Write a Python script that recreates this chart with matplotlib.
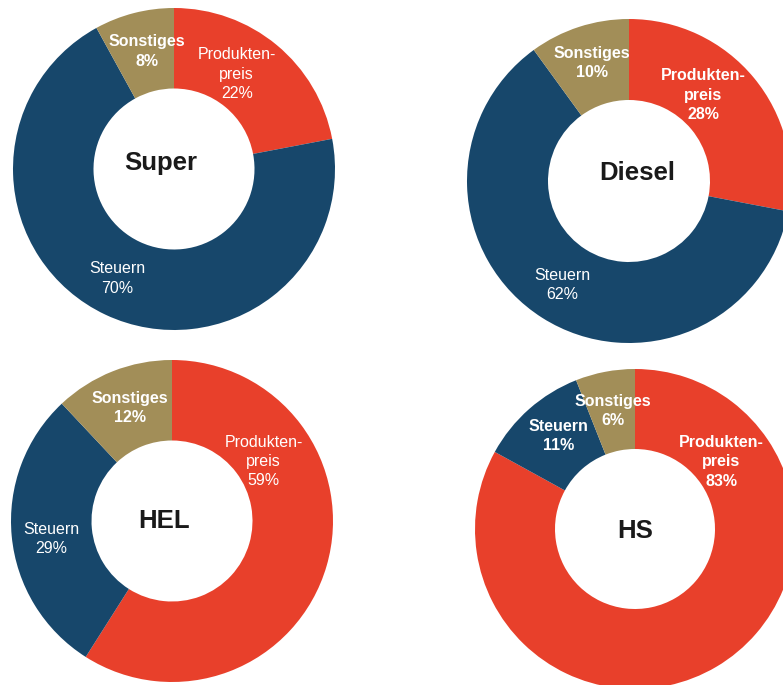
import matplotlib
matplotlib.use("Agg")
import matplotlib.pyplot as plt

plt.rcParams["font.family"] = ["Liberation Sans", "DejaVu Sans"]

# Shares of the fuel price (clockwise from 12 o'clock)
components = ["Produktenpreis", "Steuern", "Sonstiges"]
fuels = ["Super", "Diesel", "HEL", "HS"]
super_shares = [22, 70, 8]
diesel_shares = [28, 62, 10]
hel_shares = [59, 29, 12]
hs_shares = [83, 11, 6]

component_labels = {
    "Produktenpreis": "Produkten-\npreis\n{}%",
    "Steuern": "Steuern\n{}%",
    "Sonstiges": "Sonstiges\n{}%",
}
colors = {"Produktenpreis": "#E8402B", "Steuern": "#17476B", "Sonstiges": "#A28E58"}

W, H = 783, 685
fig = plt.figure(figsize=(W / 100, H / 100), dpi=100)
ax = fig.add_axes([0, 0, 1, 1])

# donut layout: centre (px), outer radius (px)
layout = {
    "Super": ((174, H - 169), 161),
    "Diesel": ((629, H - 181), 162),
    "HEL": ((172, H - 521), 161),
    "HS": ((635, H - 529), 160),
}
# label offsets relative to the donut centre, in units of the radius
label_offsets = {
    "Super": [(0.39, 0.59), (-0.35, -0.68), (-0.17, 0.73)],
    "Diesel": [(0.46, 0.53), (-0.41, -0.64), (-0.23, 0.73)],
    "HEL": [(0.57, 0.37), (-0.75, -0.11), (-0.26, 0.70)],
    "HS": [(0.54, 0.42), (-0.48, 0.58), (-0.14, 0.74)],
}
label_weights = {
    "Super": ["normal", "normal", "bold"],
    "Diesel": ["bold", "normal", "bold"],
    "HEL": ["normal", "normal", "bold"],
    "HS": ["bold", "bold", "bold"],
}
title_offsets = {"Super": (-0.08, 0.04), "Diesel": (0.05, 0.05), "HEL": (-0.05, 0.0), "HS": (0.0, -0.01)}

all_shares = {"Super": super_shares, "Diesel": diesel_shares, "HEL": hel_shares, "HS": hs_shares}

for fuel in fuels:
    shares = all_shares[fuel]
    (cx, cy), r = layout[fuel]
    ax.pie(shares, colors=[colors[c] for c in components], startangle=90,
           counterclock=False, radius=r, center=(cx, cy),
           wedgeprops=dict(width=r * 0.5, linewidth=0))
    for comp, val, (dx, dy), wt in zip(components, shares, label_offsets[fuel], label_weights[fuel]):
        ax.text(cx + dx * r, cy + dy * r, component_labels[comp].format(val),
                ha="center", va="center", color="white", fontsize=11.5,
                fontweight=wt, linespacing=1.35)
    tx, ty = title_offsets[fuel]
    ax.text(cx + tx * r, cy + ty * r, fuel, ha="center", va="center",
            fontsize=18.5, fontweight="bold", color="#1a1a1a")

ax.set_xlim(0, W)
ax.set_ylim(0, H)
ax.set_aspect("equal")
ax.axis("off")

fig.savefig("out.png", dpi=100, facecolor="white")
